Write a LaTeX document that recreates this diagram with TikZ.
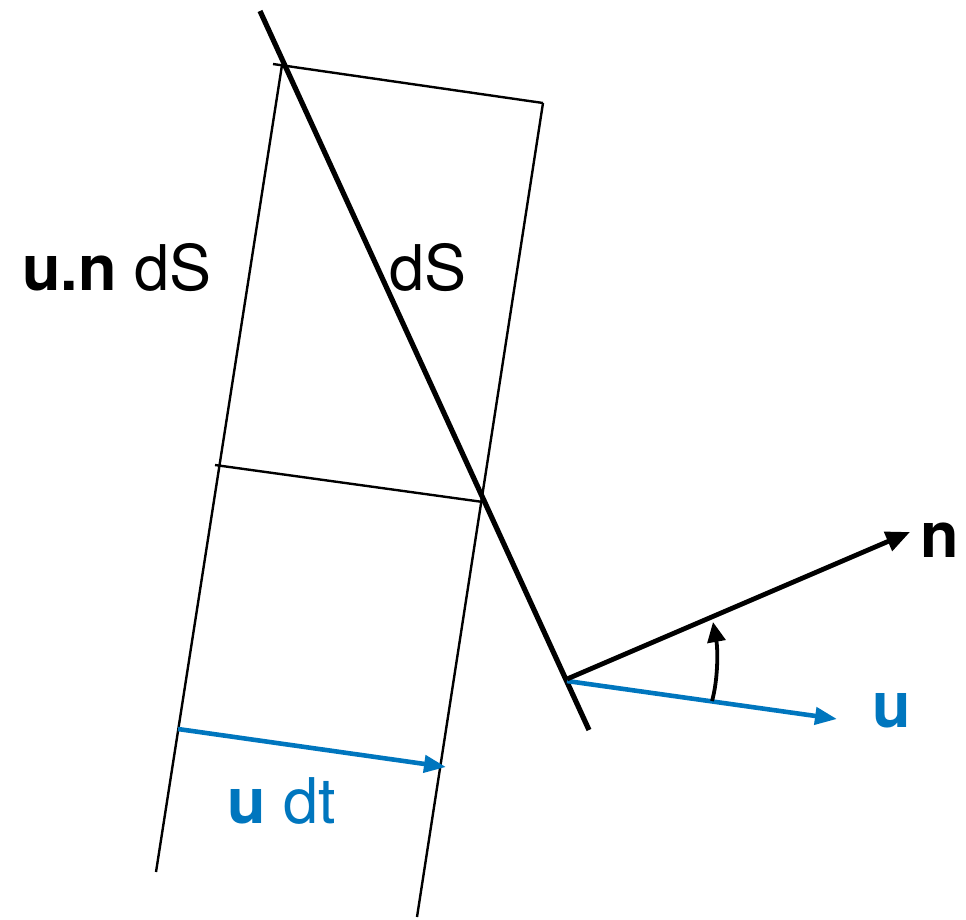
\documentclass[tikz,border=0pt]{standalone}
\usepackage{fontspec}
\setmainfont{TeX Gyre Heros}
\usetikzlibrary{arrows.meta}
\definecolor{ublue}{RGB}{0,118,190}
\begin{document}
\begin{tikzpicture}[x=1pt,y=-1pt,
  thinline/.style={line width=2.4pt,line cap=butt},
  surface/.style={line width=5.2pt},
  vecblack/.style={line width=4.8pt,-{Triangle[length=24pt,width=20pt]}},
  vecblue/.style={line width=4.6pt,ublue,-{Triangle[length=22pt,width=17pt]}},
  anglearrow/.style={line width=3.8pt,-{Triangle[length=20pt,width=18pt]}},
  lbl/.style={inner sep=0pt,anchor=base west,font=\fontsize{63}{75}\selectfont}]
\useasboundingbox (0,0) rectangle (966,919);
% coordinates
\coordinate (S1) at (260,11);
\coordinate (S2) at (589,730);
\coordinate (TLx) at (273,64);
\coordinate (TL) at (282,65);
\coordinate (BL) at (156,872);
\coordinate (TR) at (543,103);
\coordinate (BR) at (417,917);
\coordinate (ML) at (215,465);
\coordinate (MR) at (483,502);
\coordinate (A1) at (178,729);
\coordinate (A2) at (446,767);
\coordinate (O) at (567,679);
\coordinate (Ou) at (567,681);
\coordinate (N) at (910,532);
\coordinate (U) at (837,719);
\coordinate (C1) at (712,701);
\coordinate (C2) at (713,622);
% box
\draw[thinline] (TL) -- (BL);
\draw[thinline] (TR) -- (BR);
\draw[thinline] (TLx) -- (TR);
\draw[thinline] (ML) -- (MR);
% surface
\draw[surface] (S1) -- (S2);
% vectors
\draw[vecblue] (A1) -- (A2);
\draw[vecblue] (Ou) -- (U);
\draw[vecblack] (O) -- (N);
\draw[anglearrow] (C1) .. controls (718,680) and (718,650) .. (C2);
% labels
\node[lbl] (lun) at (22,290) {\textbf{u.n} dS};
\node[lbl] (lds) at (389,290) {dS};
\node[lbl,text=ublue] (ludt) at (227,823) {\textbf{u} dt};
\node[lbl] (ln) at (920,557) {\textbf{n}};
\node[lbl,text=ublue] (lu) at (872,727) {\textbf{u}};
\end{tikzpicture}
\end{document}
